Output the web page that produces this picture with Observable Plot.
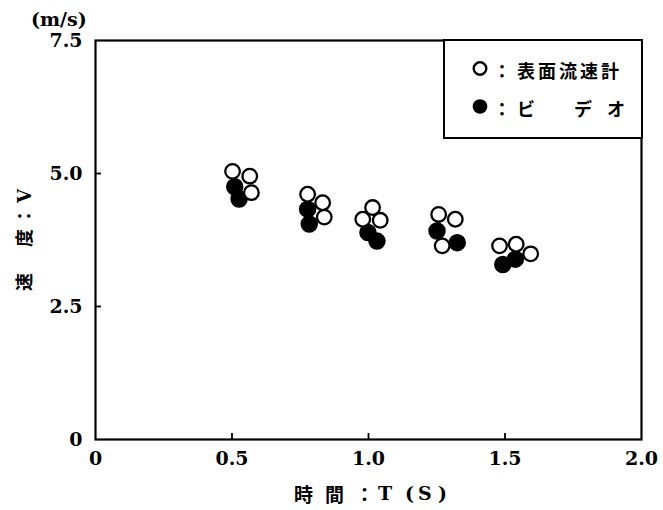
<!DOCTYPE html>
<html><head><meta charset="utf-8">
<script src="https://cdn.jsdelivr.net/npm/d3@7"></script>
<script src="https://cdn.jsdelivr.net/npm/@observablehq/plot@0.6"></script>
<style>
body{margin:0;background:#fff;}
#wrap{position:relative;width:663px;height:510px;overflow:hidden;background:#fff;}
.t{position:absolute;white-space:nowrap;color:#000;font-weight:bold;line-height:1;}
.cjk{font-family:"Noto Sans CJK JP",sans-serif;}
.ser{font-family:"DejaVu Serif",serif;}
#legend{position:absolute;left:443px;top:39px;width:196px;height:96px;border:2px solid #000;background:#fff;}
</style></head><body><div id="wrap"></div>
<script>
// Tick values and labels
const xTicks = [0, 0.5, 1.0, 1.5, 2.0];
const xTickLabels = ["0", "0.5", "1.0", "1.5", "2.0"];
const yTicks = [0, 2.5, 5.0, 7.5];
const yTickLabels = ["0", "2.5", "5.0", "7.5"];
const xInnerTicks = [0.5, 1.0, 1.5];
const yInnerTicks = [2.5, 5.0];

// 表面流速計 (open circles)
const surfaceT = [0.502, 0.565, 0.571, 0.777, 0.832, 0.838, 1.015, 0.979, 1.043, 1.257, 1.318, 1.270, 1.480, 1.541, 1.594];
const surfaceV = [5.04, 4.95, 4.64, 4.61, 4.45, 4.18, 4.36, 4.14, 4.12, 4.23, 4.14, 3.64, 3.64, 3.67, 3.49];
// ビデオ (filled circles)
const videoT = [0.510, 0.526, 0.777, 0.783, 0.998, 1.031, 1.251, 1.325, 1.492, 1.538];
const videoV = [4.75, 4.52, 4.33, 4.05, 3.89, 3.73, 3.92, 3.70, 3.29, 3.39];

const surface = surfaceT.map((t, i) => ({t, v: surfaceV[i]}));
const video = videoT.map((t, i) => ({t, v: videoV[i]}));

const serif = "'DejaVu Serif', serif";
const frameW = 663 - 95 - 22, frameH = 510 - 40 - 71;
const chart = Plot.plot({
  width: 663, height: 510,
  marginLeft: 95, marginRight: 22, marginTop: 40, marginBottom: 71,
  x: {domain: [0, 2]},
  y: {domain: [0, 7.5]},
  style: {fontFamily: serif, fontWeight: "bold", fontSize: "19px", background: "white", color: "black", overflow: "visible"},
  marks: [
    Plot.tickX(xInnerTicks, {x: d => d, insetTop: frameH - 6, stroke: "black", strokeWidth: 1.8}),
    Plot.tickY(yInnerTicks, {y: d => d, insetRight: frameW - 6, stroke: "black", strokeWidth: 1.8}),
    Plot.axisX({ticks: xTicks, tickSize: 0, tickPadding: 12, fontSize: 19, tickFormat: d => xTickLabels[xTicks.indexOf(d)], label: null}),
    Plot.axisY({ticks: yTicks, tickSize: 0, tickPadding: 13, fontSize: 19, tickFormat: d => yTickLabels[yTicks.indexOf(d)], label: null}),
    Plot.frame({stroke: "black", strokeWidth: 2.2}),
    Plot.dot(video, {x: "t", y: "v", r: 8, fill: "black", stroke: "black"}),
    Plot.dot(surface, {x: "t", y: "v", r: 7.3, fill: "white", stroke: "black", strokeWidth: 2.3})
  ]
});
const wrap = document.getElementById("wrap");
wrap.appendChild(chart);

function addText(html, cls, css) {
  const d = document.createElement("div");
  d.className = "t " + cls;
  d.innerHTML = html;
  Object.assign(d.style, css);
  wrap.appendChild(d);
  return d;
}
// unit
addText("(m/s)", "ser", {left: "31px", top: "10px", fontSize: "19px"});
// y label (rotated, reads bottom to top)
addText('<span class="cjk">速　度：</span><span class="ser">V</span>', "", {
  left: "24px", top: "238px", fontSize: "18px", letterSpacing: "4px", transform: "translate(-50%,-50%) rotate(-90deg)"
});
// x label
const xl = [["時", "cjk", 294], ["間", "cjk", 325], ["：", "cjk", 355], ["T", "ser", 378], ["(", "ser", 405], ["S", "ser", 418], [")", "ser", 438]];
xl.forEach(([s, c, x]) => addText(s, c, {left: x + "px", top: "493px", fontSize: "19px", transform: "translate(0,-50%)"}));
// legend
const lg = document.createElement("div");
lg.id = "legend";
wrap.appendChild(lg);
addText('<svg width="18" height="18"><circle cx="9" cy="9" r="6.3" fill="white" stroke="black" stroke-width="2.4"/></svg>', "", {left: "480px", top: "70px", transform: "translate(-50%,-50%)"});
addText('<svg width="18" height="18"><circle cx="9" cy="9" r="7.3" fill="black"/></svg>', "", {left: "480px", top: "108px", transform: "translate(-50%,-50%)"});
addText("：", "cjk", {left: "502px", top: "70px", fontSize: "18px", transform: "translate(-50%,-50%)"});
addText("表面流速計", "cjk", {left: "517px", top: "70px", fontSize: "18px", letterSpacing: "3px", transform: "translate(0,-50%)"});
addText("：", "cjk", {left: "502px", top: "108px", fontSize: "18px", transform: "translate(-50%,-50%)"});
addText("ビ", "cjk", {left: "517px", top: "108px", fontSize: "18px", transform: "translate(0,-50%)"});
addText("デ", "cjk", {left: "574px", top: "108px", fontSize: "18px", transform: "translate(0,-50%)"});
addText("オ", "cjk", {left: "607px", top: "108px", fontSize: "18px", transform: "translate(0,-50%)"});
</script></body></html>
